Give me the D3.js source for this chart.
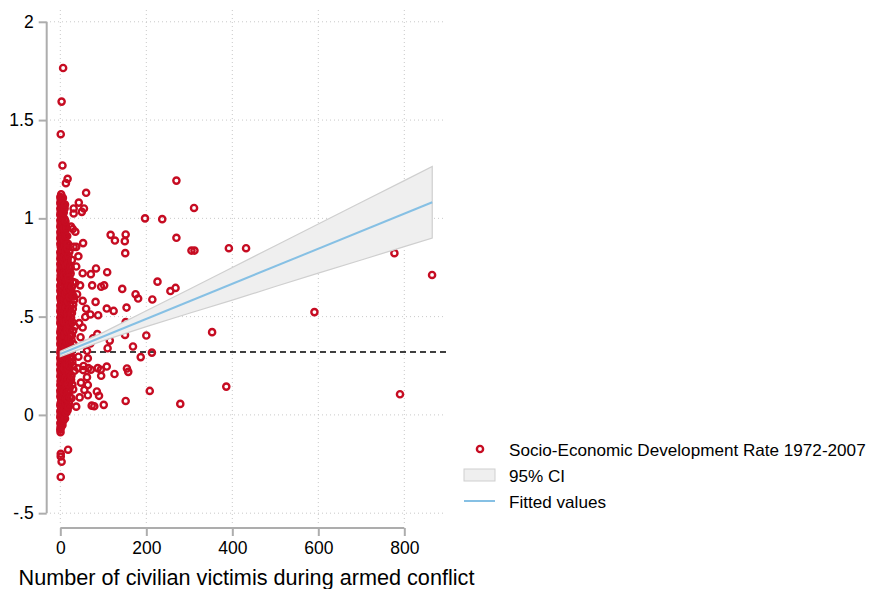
<!DOCTYPE html>
<html>
<head>
<meta charset="utf-8">
<script src="https://cdn.jsdelivr.net/npm/d3@7"></script>
<style>
  html, body { margin: 0; padding: 0; background: #fff; }
  svg { display: block; font-family: "Liberation Sans", Arial, Helvetica, sans-serif; }
</style>
</head>
<body>
<svg id="chart" width="870" height="589"></svg>
<script>
// ---- data ---------------------------------------------------------------
// [victims, development rate] pairs

// densely packed observations with few or no victims
const clusterPoints = [
  [0,-0.075],[1,-0.058],[0,-0.041],[2,-0.027],[0,-0.012],[1,0.004],[0,0.019],[3,0.033],[0,0.048],[1,0.062],
  [2,0.079],[0,0.093],[1,0.108],[0,0.124],[2,0.139],[0,0.152],[1,0.168],[3,0.183],[0,0.197],[1,0.213],
  [0,0.228],[2,0.242],[0,0.257],[1,0.273],[0,0.288],[3,0.301],[0,0.317],[1,0.332],[2,0.346],[0,0.362],
  [1,0.377],[0,0.391],[2,0.406],[0,0.422],[1,0.436],[3,0.451],[0,0.466],[1,0.481],[0,0.495],[2,0.511],
  [0,0.526],[1,0.54],[0,0.556],[3,0.571],[1,0.585],[0,0.6],[2,0.616],[0,0.631],[1,0.645],[0,0.66],
  [2,0.676],[0,0.69],[1,0.705],[3,0.721],[0,0.735],[1,0.75],[0,0.766],[2,0.78],[0,0.795],[1,0.81],
  [0,0.826],[3,0.84],[1,0.855],[0,0.871],[2,0.885],[0,0.9],[1,0.915],[0,0.93],[2,0.945],[0,0.96],
  [1,0.975],[0,0.99],[3,1.005],[0,1.02],[1,1.034],[0,1.05],[2,1.064],[0,1.079],[1,1.094],[0,1.108],[2,1.122],
  [1,-0.066],[2,-0.034],[1,-0.004],[2,0.026],[1,0.055],[2,0.086],[1,0.116],[2,0.146],[1,0.175],[2,0.205],
  [1,0.235],[2,0.265],[1,0.295],[2,0.325],[1,0.354],[2,0.384],[1,0.414],[2,0.444],[1,0.474],[2,0.503],
  [1,0.533],[2,0.563],[1,0.593],[2,0.623],[1,0.653],[2,0.683],[1,0.713],[2,0.743],[1,0.773],[2,0.803],
  [1,0.833],[2,0.863],[1,0.893],[2,0.923],[1,0.953],[2,0.983],[1,1.013],[2,1.042],[1,1.072],[2,1.101],
  [5,-0.052],[7,-0.03],[4,-0.006],[8,0.018],[6,0.041],[4,0.066],[9,0.088],[5,0.112],[7,0.137],[4,0.16],
  [8,0.184],[6,0.209],[5,0.232],[9,0.255],[4,0.279],[7,0.303],[6,0.327],[8,0.35],[4,0.374],[9,0.398],
  [5,0.421],[7,0.446],[6,0.469],[8,0.493],[4,0.517],[9,0.54],[5,0.565],[7,0.588],[6,0.612],[8,0.636],
  [4,0.66],[9,0.683],[5,0.707],[7,0.731],[6,0.755],[8,0.779],[4,0.802],[6,0.826],[5,0.85],[7,0.874],
  [4,0.898],[6,0.921],[5,0.945],[7,0.969],[4,0.993],[6,1.016],[5,1.04],[8,1.063],[4,1.087],[6,1.104],
  [3,-0.04],[6,-0.018],[5,0.006],[3,0.03],[7,0.054],[5,0.077],[3,0.1],[6,0.125],[5,0.149],[3,0.172],
  [7,0.196],[4,0.22],[6,0.244],[3,0.267],[5,0.291],[7,0.315],[3,0.339],[6,0.362],[5,0.386],[3,0.41],
  [7,0.433],[4,0.457],[6,0.481],[3,0.505],[5,0.529],[7,0.552],[3,0.576],[6,0.6],[5,0.624],[3,0.648],
  [7,0.671],[4,0.695],[6,0.719],[3,0.743],[5,0.767],[7,0.79],[3,0.814],[6,0.838],[5,0.862],[3,0.886],
  [6,0.909],[4,0.933],[3,0.957],[5,0.981],[3,1.004],[6,1.028],[4,1.052],[3,1.075],
  [11,-0.018],[13,0.012],[10,0.04],[14,0.071],[12,0.1],[10,0.131],[15,0.16],[11,0.19],[13,0.221],[10,0.25],
  [14,0.279],[12,0.31],[11,0.339],[15,0.37],[10,0.4],[13,0.428],[12,0.458],[14,0.489],[11,0.518],[15,0.548],
  [10,0.578],[13,0.607],[12,0.637],[14,0.667],[11,0.697],[10,0.726],[13,0.756],[12,0.786],[11,0.815],[14,0.845],
  [10,0.876],[12,0.905],[11,0.936],[13,0.965],[10,0.997],
  [9,0.026],[12,0.056],[15,0.086],[9,0.115],[13,0.145],[11,0.175],[16,0.205],[9,0.235],[12,0.265],[15,0.294],
  [10,0.324],[13,0.354],[16,0.385],[11,0.414],[14,0.443],[9,0.473],[16,0.503],[12,0.533],[14,0.563],[10,0.592],
  [15,0.622],[11,0.652],[13,0.682],[9,0.711],[15,0.741],[11,0.771],[9,0.8],[13,0.83],[10,0.86],[9,0.89],
  [11,0.92],[9,0.95],
  [14,0.012],[16,0.048],[13,0.083],[17,0.118],[14,0.152],[12,0.188],[17,0.226],[15,0.262],[13,0.296],[17,0.334],
  [14,0.37],[12,0.405],[16,0.44],[14,0.476],[17,0.51],[13,0.545],[16,0.58],[12,0.615],[17,0.652],[14,0.688],
  [16,0.723],[13,0.76],[15,0.796],[12,0.832],[14,0.87],[12,0.91],[14,0.95],[12,0.985],[8,1.03],[10,1.05],
  [17,0.024],[20,0.06],[16,0.1],[22,0.139],[18,0.178],[21,0.215],[17,0.255],[23,0.292],[19,0.33],[16,0.368],
  [22,0.407],[18,0.445],[21,0.483],[17,0.52],[23,0.558],[19,0.597],[16,0.636],[22,0.673],[18,0.71],[20,0.75],
  [17,0.79],[21,0.83],[18,0.87],[16,0.91],
  [19,0.042],[17,0.08],[21,0.12],[18,0.158],[24,0.197],[19,0.235],[22,0.273],[18,0.311],[25,0.349],[20,0.387],
  [17,0.426],[24,0.464],[19,0.502],[22,0.539],[18,0.578],[25,0.616],[20,0.655],[17,0.692],[21,0.73],[18,0.77],
  [19,0.81],
  [22,0.09],[23,0.17],[21,0.25],[24,0.33],[22,0.37],[23,0.43],[21,0.46],[24,0.52],[22,0.6],[23,0.64],
  [21,0.7],[24,0.75],
  [26,0.085],[30,0.13],[25,0.18],[33,0.225],[28,0.27],[24,0.315],[31,0.36],[27,0.405],[34,0.45],[25,0.495],
  [29,0.54],[32,0.585],[26,0.63],[30,0.676],[24,0.72],
  [28,0.155],[26,0.2],[30,0.248],[27,0.292],[29,0.338],[26,0.382],[30,0.428],[28,0.472],[27,0.518],[30,0.562],
  [28,0.608],[27,0.652]
];

// scattered observations away from the main cluster
const spreadPoints = [
  [6.5,1.765],[3,1.594],[1,1.428],[5,1.269],[17,1.201],[13,1.179],[60,1.13],[43,1.08],[31,1.05],[55,1.05],
  [50,1.033],[31,1.025],[11,1.07],[25,0.958],[29,0.946],[35,0.932],[53,0.874],[117,0.916],[127,0.887],
  [152,0.918],[150,0.884],[151,0.823],[197,1.0],[237,0.996],[270,1.192],[311,1.053],[270,0.901],
  [305,0.836],[312,0.836],[392,0.848],[432,0.848],
  [17,0.848],[31,0.855],[37,0.855],[42,0.807],[27,0.788],[37,0.755],[83,0.745],[109,0.726],[52,0.721],
  [71,0.716],[19,0.697],[35,0.672],[46,0.659],[74,0.659],[95,0.652],[102,0.659],
  [144,0.641],[175,0.614],[181,0.592],[226,0.678],[256,0.63],[268,0.646],[214,0.587],[154,0.546],
  [39,0.614],[31,0.603],[52,0.58],[82,0.575],[60,0.54],[70,0.511],[88,0.507],[108,0.541],[124,0.529],[58,0.498],
  [44,0.467],[52,0.445],[86,0.411],[76,0.39],[47,0.395],[58,0.361],[70,0.364],[62,0.326],
  [42,0.296],[64,0.288],[54,0.249],[41,0.237],[53,0.228],[65,0.238],[71,0.23],[87,0.238],[94,0.23],
  [95,0.199],[62,0.192],[108,0.246],[126,0.208],[152,0.472],[150.5,0.407],[200,0.404],[353,0.421],
  [169,0.348],[187,0.294],[213,0.317],[155,0.236],[158,0.219],[115,0.378],[110,0.339],
  [48,0.164],[64,0.152],[56,0.127],[85,0.119],[90,0.097],[64,0.1],[45,0.089],[73,0.047],[79,0.044],
  [101,0.051],[37,0.042],[152,0.071],[208,0.122],[279,0.056],[386,0.144],
  [591,0.523],[777,0.823],[864.6,0.712],[790,0.105],
  [0.5,-0.088],[1,-0.198],[1,-0.212],[3,-0.238],[18,-0.177],[1,-0.316]
];

// linear fit and its 95% confidence band
const fitX = [0, 865];
const fitY = [0.31, 1.082];
const ciX  = [0, 100, 200, 300, 400, 500, 600, 700, 800, 865];
const ciLo = [0.297, 0.378, 0.449, 0.517, 0.584, 0.653, 0.721, 0.788, 0.856, 0.900];
const ciHi = [0.323, 0.420, 0.530, 0.639, 0.750, 0.861, 0.971, 1.082, 1.192, 1.264];

// reference line (sample mean)
const meanLevel = 0.32;

// axis ticks
const xTicks = [0, 200, 400, 600, 800];
const xTickLabels = ["0", "200", "400", "600", "800"];
const yTicks = [-0.5, 0, 0.5, 1, 1.5, 2];
const yTickLabels = ["-.5", "0", ".5", "1", "1.5", "2"];

const xTitle = "Number of civilian victimis during armed conflict";
const legendLabels = ["Socio-Economic Development Rate 1972-2007", "95% CI", "Fitted values"];

// ---- drawing ------------------------------------------------------------
const RED = "#c60c22";
const svg = d3.select("#chart");

const plot = { left: 50, right: 443, top: 10, bottom: 523 };
const x = d3.scaleLinear().domain([-24, 890]).range([plot.left, plot.right]);
const y = d3.scaleLinear().domain([-0.55, 2.06]).range([plot.bottom, plot.top]);

// shrink or grow a text's font so that it spans the given width
function fitWidth(sel, width, startSize) {
  sel.style("font-size", startSize + "px");
  const w = sel.node().getComputedTextLength();
  if (w > 0) sel.style("font-size", (startSize * width / w).toFixed(2) + "px");
  return sel;
}

// grid
const grid = svg.append("g").attr("stroke", "#c9c9c9").attr("stroke-width", 1)
  .attr("stroke-dasharray", "1,3");
grid.selectAll("line.v").data(xTicks).join("line").attr("class", "v")
  .attr("x1", d => x(d)).attr("x2", d => x(d))
  .attr("y1", plot.top).attr("y2", plot.bottom);
grid.selectAll("line.h").data(yTicks).join("line").attr("class", "h")
  .attr("x1", plot.left).attr("x2", plot.right)
  .attr("y1", d => y(d)).attr("y2", d => y(d));

// mean reference line
svg.append("line")
  .attr("x1", plot.left).attr("x2", plot.right + 3)
  .attr("y1", y(meanLevel)).attr("y2", y(meanLevel))
  .attr("stroke", "#000").attr("stroke-width", 1.4).attr("stroke-dasharray", "6,4");

// scatter
const allPoints = clusterPoints.concat(spreadPoints);
svg.append("g").selectAll("circle").data(allPoints).join("circle")
  .attr("cx", d => x(d[0])).attr("cy", d => y(d[1])).attr("r", 3.1)
  .attr("fill", "none").attr("stroke", RED).attr("stroke-width", 2.4);

// confidence band
const band = d3.area()
  .x((d, i) => x(ciX[i]))
  .y0((d, i) => y(ciLo[i]))
  .y1((d, i) => y(ciHi[i]));
svg.append("path").datum(ciX).attr("d", band)
  .attr("fill", "#efefef").attr("stroke", "#cfcfcf").attr("stroke-width", 1.2);

// fitted line
const fitLine = d3.line().x((d, i) => x(fitX[i])).y((d, i) => y(fitY[i]));
svg.append("path").datum(fitX).attr("d", fitLine)
  .attr("fill", "none").attr("stroke", "#86c0e4").attr("stroke-width", 2);

// axes
const AXIS = "#adadad";
const yAxisX = 46.7;
const xAxisY = 528;
const tickFont = 17.5;

const yAxis = d3.axisLeft(y).tickValues(yTicks)
  .tickFormat((d, i) => yTickLabels[i]).tickSize(8).tickPadding(5);
const gy = svg.append("g").attr("transform", `translate(${yAxisX},0)`).call(yAxis);
gy.select(".domain").attr("d", `M0,${y(-0.5)}V${y(2)}`);

const xAxis = d3.axisBottom(x).tickValues(xTicks)
  .tickFormat((d, i) => xTickLabels[i]).tickSize(8).tickPadding(6);
const gx = svg.append("g").attr("transform", `translate(0,${xAxisY})`).call(xAxis);
gx.select(".domain").attr("d", `M${x(0)},0H${x(800)}`);

[gx, gy].forEach(g => {
  g.select(".domain").attr("stroke", AXIS).attr("stroke-width", 2).attr("fill", "none");
  g.selectAll(".tick line").attr("stroke", AXIS).attr("stroke-width", 2);
  g.selectAll(".tick text").attr("fill", "#000")
    .style("font-size", tickFont + "px").style("font-family", "\"Liberation Sans\", Arial, sans-serif");
});

// axis title
const title = svg.append("text")
  .attr("x", (plot.left + plot.right) / 2).attr("y", 585)
  .attr("text-anchor", "middle").attr("fill", "#000")
  .text(xTitle);
fitWidth(title, 456, 21);

// legend
const lg = svg.append("g");
const legX = 509;
lg.append("circle").attr("cx", 480).attr("cy", 449).attr("r", 3.1)
  .attr("fill", "none").attr("stroke", RED).attr("stroke-width", 2.4);
lg.append("rect").attr("x", 464).attr("y", 469).attr("width", 31).attr("height", 12)
  .attr("fill", "#efefef").attr("stroke", "#cfcfcf").attr("stroke-width", 1);
lg.append("line").attr("x1", 464).attr("x2", 495).attr("y1", 501).attr("y2", 501)
  .attr("stroke", "#86c0e4").attr("stroke-width", 2);
const legTexts = [456, 482, 508].map((by, i) =>
  lg.append("text").attr("x", legX).attr("y", by).attr("fill", "#000").text(legendLabels[i]));
fitWidth(legTexts[0], 357, 17);
const legSize = legTexts[0].style("font-size");
legTexts.slice(1).forEach(t => t.style("font-size", legSize));
</script>
</body>
</html>
